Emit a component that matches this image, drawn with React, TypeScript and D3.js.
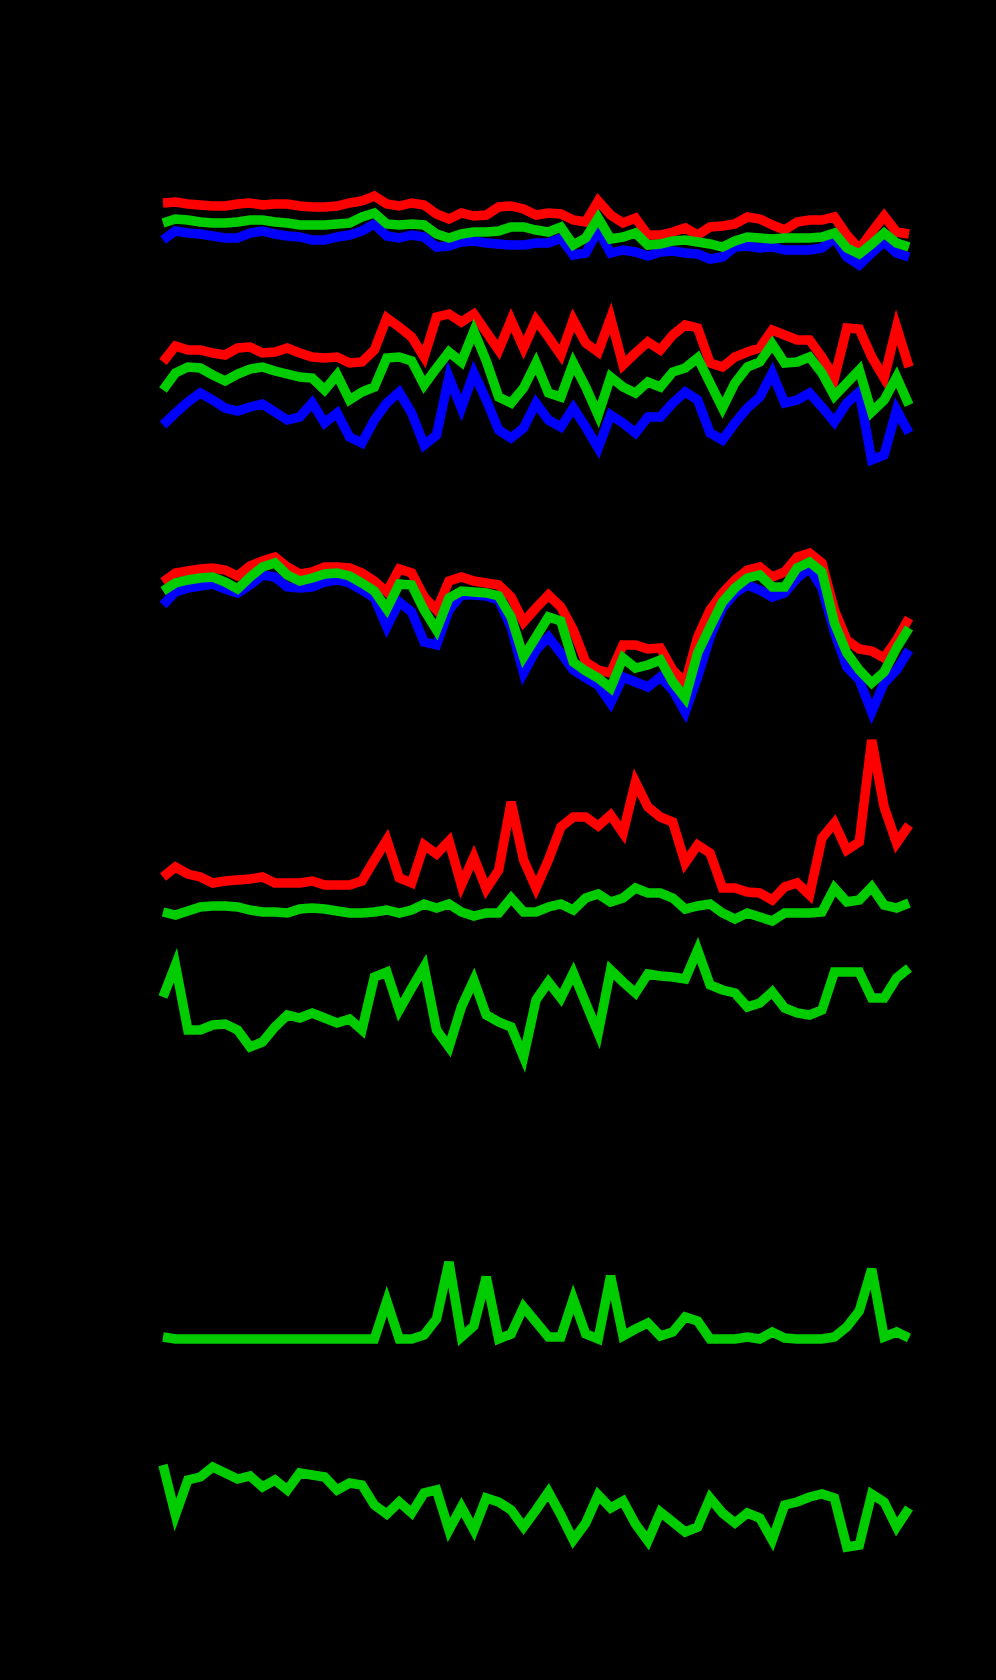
import * as d3 from "d3";

// sample index (shared x for every panel)
const N = 61;
const idx = d3.range(N);

// panel 1
const p1Red = [57,58,56,55,54,54,56,57,55,56,56,54,53,53,54,57,59,64,56,54,57,55,46,41,47,44,45,53,54,51,45,47,46,40,38,59,45,37,42,25,25,28,32,25,33,34,36,43,41,35,30,38,40,40,43,25,11,28,44,28,26];
const p1Green = [37,41,40,38,37,37,38,40,40,38,37,35,35,35,36,37,43,47,36,35,36,35,26,22,26,28,28,29,33,33,30,28,33,15,22,42,21,23,27,15,16,19,20,18,16,13,19,23,22,21,22,22,22,23,27,12,6,16,27,17,13];
const p1Blue = [20,29,27,26,24,22,22,27,29,26,24,23,20,20,23,25,29,36,24,22,25,23,13,14,18,19,17,16,15,15,17,17,22,5,7,30,7,10,8,4,8,9,7,6,1,3,13,14,12,13,10,10,10,12,22,3,-5,7,18,7,3];

// panel 2
const p2Red = [108,124,120,120,117,115,122,123,117,118,122,117,113,112,113,107,108,120,152,143,133,113,153,156,148,156,138,120,150,122,150,133,115,150,127,118,152,105,117,128,120,135,145,142,107,103,113,118,122,140,135,130,130,113,92,142,141,113,92,143,103];
const p2Green = [80,97,103,102,95,89,96,101,103,99,96,93,92,80,95,70,78,83,112,113,109,85,102,118,108,139,109,73,67,82,107,77,73,107,83,55,93,83,77,88,83,98,102,112,87,62,87,103,108,126,107,108,113,97,74,87,100,58,70,93,65];
const p2Blue = [45,57,68,77,70,62,59,63,66,58,50,53,67,47,57,33,27,50,67,78,57,25,35,93,62,97,70,40,32,42,67,50,43,62,43,22,55,47,37,53,53,67,78,70,37,30,47,62,73,97,67,70,77,63,48,67,78,10,15,60,37];

// panel 3
const p3Red = [143,152,154,156,157,155,149,159,164,168,158,151,153,158,158,157,152,144,133,156,152,128,115,144,148,144,142,140,128,103,117,130,118,95,63,55,52,80,80,76,77,55,42,88,115,132,145,155,158,148,153,168,172,162,115,85,76,74,67,85,107];
const p3Green = [134,142,145,147,148,143,136,148,158,162,150,144,147,151,152,149,142,134,116,141,140,115,95,127,134,133,132,129,108,68,88,108,104,63,54,47,37,67,57,60,65,43,27,72,98,123,137,147,150,138,138,157,163,153,102,72,55,42,53,77,97];
const p3Blue = [120,133,137,139,141,136,132,140,150,148,138,137,138,143,145,142,135,127,98,123,113,83,80,115,130,130,129,125,98,52,75,88,72,55,47,40,22,48,43,38,48,35,13,48,88,117,132,140,135,128,132,147,157,137,93,58,45,13,42,55,75];

// panel 4
const p4Red = [58,68,61,58,52,54,55,56,58,52,52,52,54,50,50,50,54,75,95,57,52,90,81,94,50,78,46,65,133,75,47,75,108,118,118,109,120,102,153,128,118,113,72,90,82,47,47,43,42,35,48,52,40,97,112,85,93,195,128,92,110];
const p4Green = [23,20,24,28,29,29,28,25,23,23,22,26,27,26,24,22,22,23,25,22,25,31,27,31,23,19,22,22,37,23,23,28,31,25,37,41,33,37,47,42,42,37,26,29,31,22,16,22,18,14,22,22,22,23,47,33,35,48,30,27,32];

// panel 5
const p5Green = [73,105,40,40,45,46,40,23,28,43,55,52,57,52,47,51,40,93,98,60,82,103,40,23,63,90,55,48,43,13,70,88,72,97,67,37,100,88,77,96,94,93,91,120,85,80,77,63,67,78,62,57,55,60,98,98,98,72,72,92,102];

// panel 6
const p6Green = [2,0,0,0,0,0,0,0,0,0,0,0,0,0,0,0,0,0,38,0,0,4,20,77,2,13,62,0,5,32,17,2,2,40,5,0,63,3,10,16,3,7,22,18,0,0,0,2,0,7,1,0,0,0,2,12,28,70,2,7,1];

// panel 7
const p7Green = [95,45,80,83,93,87,81,84,73,80,70,87,85,83,70,77,75,55,46,58,47,67,70,30,53,30,62,58,50,33,50,68,45,20,37,65,52,59,36,19,48,38,28,33,62,47,37,47,42,20,55,58,63,66,62,13,15,66,58,33,52];

const RED = "#ff0000";
const GREEN = "#00cc00";
const BLUE = "#0000ff";

type Series = { values: number[]; color: string };
type Panel = { domain: [number, number]; range: [number, number]; series: Series[] };

const panels: Panel[] = [
  { domain: [-10, 90], range: [270, 170], series: [
    { values: p1Red, color: RED }, { values: p1Blue, color: BLUE }, { values: p1Green, color: GREEN }] },
  { domain: [0, 170], range: [470, 300], series: [
    { values: p2Red, color: RED }, { values: p2Blue, color: BLUE }, { values: p2Green, color: GREEN }] },
  { domain: [0, 180], range: [725, 545], series: [
    { values: p3Red, color: RED }, { values: p3Blue, color: BLUE }, { values: p3Green, color: GREEN }] },
  { domain: [0, 210], range: [935, 725], series: [
    { values: p4Red, color: RED }, { values: p4Green, color: GREEN }] },
  { domain: [0, 130], range: [1070, 940], series: [{ values: p5Green, color: GREEN }] },
  { domain: [0, 90], range: [1339, 1249], series: [{ values: p6Green, color: GREEN }] },
  { domain: [0, 110], range: [1560, 1450], series: [{ values: p7Green, color: GREEN }] },
];

export default function App() {
  const W = 996;
  const H = 1680;
  const x = d3.scaleLinear().domain([0, N - 1]).range([163, 909]);

  return (
    <div style={{ position: "absolute", left: 0, top: 0, width: W, height: H, background: "#000" }}>
      <svg width={W} height={H} style={{ display: "block" }}>
        <rect width={W} height={H} fill="#000" />
        {panels.map((p, pi) => {
          const y = d3.scaleLinear().domain(p.domain).range(p.range);
          const line = d3.line<number>().x((_, i) => x(idx[i])).y((v) => y(v));
          return (
            <g key={pi}>
              {p.series.map((s, si) => (
                <path key={si} d={line(s.values) ?? ""} fill="none" stroke={s.color}
                  strokeWidth={9.5} strokeLinejoin="miter" />
              ))}
            </g>
          );
        })}
      </svg>
    </div>
  );
}
